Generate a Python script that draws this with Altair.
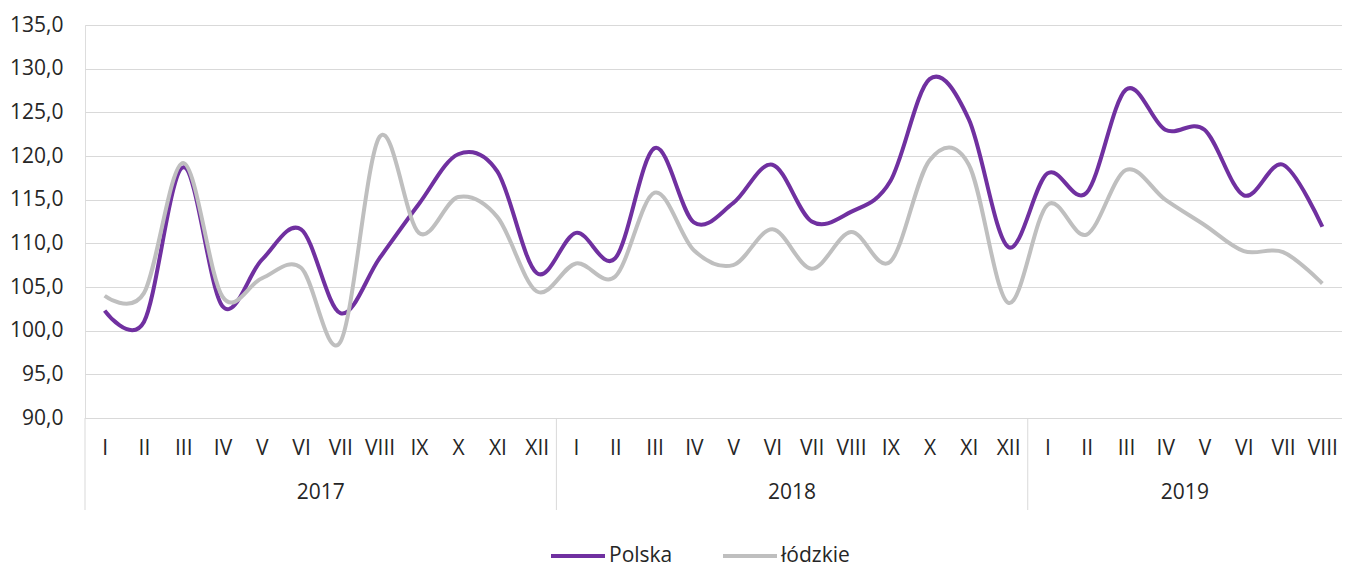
import altair as alt
import pandas as pd

months_full = ["I", "II", "III", "IV", "V", "VI", "VII", "VIII", "IX", "X", "XI", "XII"]
months = months_full * 2 + months_full[:8]
years = ["2017", "2018", "2019"]
year_centers = [6, 18, 28]
year_bounds = [0, 12, 24]

polska = [102.3, 101.0, 118.7, 102.8, 108.1, 111.6, 102.0, 108.3, 114.5, 120.2, 118.2, 106.6,
          111.2, 108.3, 120.9, 112.4, 114.6, 119.0, 112.5, 113.6, 117.1, 128.8, 124.2, 109.6,
          118.0, 115.8, 127.6, 123.0, 123.0, 115.5, 119.0, 111.9]
lodzkie = [104.0, 104.3, 119.2, 103.9, 106.0, 107.2, 98.7, 122.2, 111.2, 115.3, 113.0, 104.5,
           107.7, 106.2, 115.8, 109.2, 107.5, 111.6, 107.1, 111.3, 107.9, 119.5, 119.0, 103.2,
           114.4, 111.0, 118.4, 115.0, 112.1, 109.1, 109.0, 105.4]

series_names = ["Polska", "łódzkie"]
colors = ["#7030a0", "#bfbfbf"]

rows = []
for i in range(len(months)):
    rows.append({"idx": i, "series": "Polska", "value": polska[i], "order": 0})
    rows.append({"idx": i, "series": "łódzkie", "value": lodzkie[i], "order": 1})
df = pd.DataFrame(rows)

FONT = "Open Sans"
TXT = "#262626"
FS = 21
N = len(months)
W = 1257

label_arr = "[" + ",".join("'%s'" % m for m in months) + "]"
x_scale = alt.Scale(domain=[0, N], nice=False, zero=False)

lines = alt.Chart(df).transform_calculate(pos="datum.idx + 0.5").mark_line(
    strokeWidth=4, interpolate="cardinal"
).encode(
    x=alt.X("pos:Q", scale=x_scale,
            axis=alt.Axis(values=[i + 0.5 for i in range(N)],
                          labelExpr=label_arr + "[floor(datum.value)]",
                          grid=False, ticks=False, tickSize=0, domain=True,
                          domainColor="#d9d9d9", labelPadding=19, title=None,
                          labelFontSize=FS, labelColor=TXT, labelFont=FONT,
                          labelFlush=False, labelOverlap=False)),
    y=alt.Y("value:Q", scale=alt.Scale(domain=[90, 135], nice=False, zero=False),
            axis=alt.Axis(values=list(range(90, 136, 5)),
                          labelExpr="replace(format(datum.value, '.1f'), '.', ',')",
                          grid=True, gridColor="#d9d9d9", domain=False, ticks=False,
                          labelPadding=22, title=None, labelFontSize=FS,
                          labelColor=TXT, labelFont=FONT)),
    color=alt.Color("series:N", scale=alt.Scale(domain=series_names, range=colors),
                    legend=alt.Legend(orient="none", legendX=464, legendY=519,
                                      direction="horizontal", title=None,
                                      symbolType="M-1,0H4.4", symbolSize=400,
                                      symbolStrokeWidth=4, labelFontSize=FS,
                                      labelFont=FONT, labelColor=TXT,
                                      labelOffset=36, columnPadding=42,
                                      padding=0)),
    order=alt.Order("order:Q"),
)

sep_df = pd.DataFrame({"b": year_bounds})
seps = alt.Chart(sep_df).mark_rule(color="#d9d9d9", strokeWidth=1).encode(
    x=alt.X("b:Q", scale=x_scale),
    y=alt.value(393),
    y2=alt.value(485),
)

yr_df = pd.DataFrame({"c": year_centers, "year": years})
yr_text = alt.Chart(yr_df).mark_text(
    font=FONT, fontSize=FS, color=TXT, baseline="middle", align="center"
).encode(
    x=alt.X("c:Q", scale=x_scale),
    y=alt.value(468),
    text="year:N",
)

chart = alt.layer(seps, lines, yr_text).properties(
    width=W, height=393,
    padding={"left": 77, "top": 17, "right": 0, "bottom": 150},
    autosize=alt.AutoSizeParams(type="none"),
).configure_view(stroke=None).configure(font=FONT)

chart.save("out.html", embed_options={"renderer": "svg", "actions": False})
